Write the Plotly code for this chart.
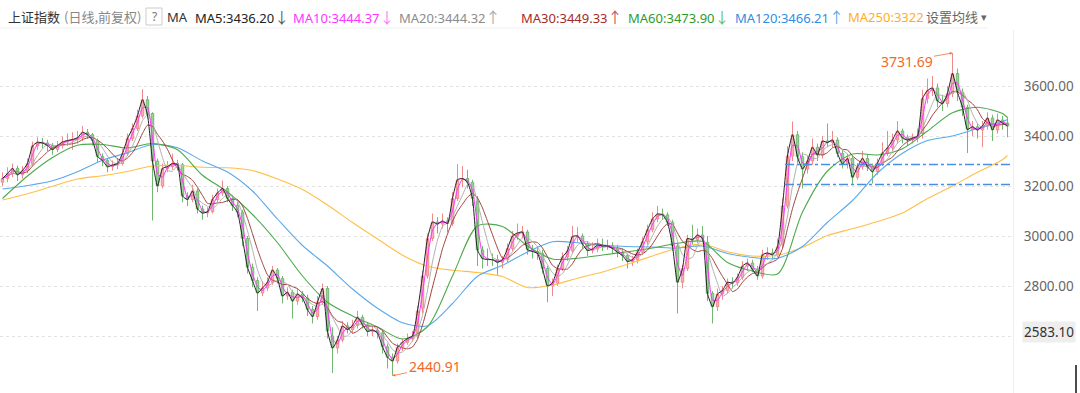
import plotly.graph_objects as go
import pandas as pd

# ---------------- data ----------------
opens = [3215,3230,3250,3270,3245,3262,3290,3360,3375,3372,
 3362,3346,3362,3376,3382,3386,3393,3415,3405,3382,
 3318,3302,3277,3284,3290,3330,3390,3430,3480,3545,
 3490,3300,3200,3270,3278,3290,3285,3160,3146,3180,
 3108,3092,3097,3146,3172,3190,3150,3122,3095,2990,
 2875,2822,2772,2792,2815,2864,2830,2760,2775,2740,
 2768,2752,2706,2678,2735,2790,2600,2552,2584,2640,
 2626,2642,2675,2645,2618,2624,2612,2557,2515,2500,
 2555,2575,2590,2600,2712,2840,2990,3056,3048,3060,
 3050,3150,3225,3230,3215,3140,2944,2910,2906,2905,
 2895,2905,2950,3000,3012,3016,2945,2938,2930,2870,
 2800,2812,2870,2916,2940,2998,3000,2968,2942,2948,
 2964,2960,2960,2950,2935,2922,2898,2905,2935,2977,
 3025,3068,3088,3085,3055,2960,2815,2870,2990,2985,
 3004,2975,2770,2717,2768,2782,2815,2812,2835,2880,
 2892,2866,2840,2925,2932,2925,2965,3120,3320,3405,
 3317,3268,3300,3355,3324,3380,3374,3384,3330,3288,
 3310,3235,3277,3310,3277,3257,3292,3332,3352,3384,
 3420,3392,3384,3392,3410,3550,3582,3592,3540,3530,
 3570,3650,3575,3515,3426,3437,3424,3440,3472,3424,
 3464,3452]
closes = [3230,3250,3270,3245,3262,3290,3360,3375,3372,3362,
 3346,3362,3376,3382,3386,3393,3415,3405,3382,3318,
 3302,3277,3284,3290,3330,3390,3430,3480,3545,3485,
 3300,3200,3270,3278,3290,3285,3160,3146,3180,3108,
 3092,3097,3146,3172,3190,3150,3122,3095,2990,2875,
 2822,2772,2792,2815,2864,2830,2760,2775,2740,2768,
 2752,2706,2678,2735,2790,2620,2552,2584,2640,2626,
 2642,2675,2645,2618,2624,2612,2557,2515,2500,2555,
 2575,2590,2600,2700,2840,2990,3056,3048,3060,3050,
 3150,3225,3230,3215,3150,2944,2910,2906,2905,2895,
 2905,2950,3000,3012,3016,2945,2938,2930,2870,2800,
 2812,2870,2916,2940,2998,3000,2968,2942,2948,2964,
 2960,2960,2950,2935,2922,2898,2905,2935,2977,3025,
 3068,3088,3085,3055,2960,2815,2870,2990,2985,3004,
 2990,2770,2717,2768,2782,2815,2812,2835,2880,2892,
 2866,2840,2925,2932,2925,2957,3120,3320,3405,3317,
 3268,3300,3355,3324,3380,3374,3384,3330,3288,3310,
 3235,3277,3310,3277,3257,3292,3332,3352,3384,3420,
 3392,3384,3392,3400,3550,3582,3592,3540,3530,3570,
 3650,3575,3515,3426,3437,3424,3440,3472,3424,3464,
 3452,3440]
highs = [3255,3275,3290,3282,3280,3310,3378,3395,3392,3385,
 3372,3380,3398,3410,3415,3420,3440,3428,3412,3390,
 3330,3312,3302,3310,3348,3410,3450,3505,3587,3560,
 3495,3310,3290,3300,3330,3305,3292,3175,3205,3190,
 3122,3115,3165,3190,3222,3200,3162,3135,3105,3000,
 2890,2835,2820,2835,2880,2872,2840,2795,2785,2790,
 2780,2765,2720,2760,2810,2800,2635,2600,2660,2655,
 2665,2700,2685,2655,2640,2635,2620,2570,2530,2570,
 2590,2610,2620,2720,2860,3010,3090,3075,3090,3075,
 3175,3288,3280,3265,3225,3160,2960,2950,2930,2925,
 2920,2970,3020,3050,3040,3025,2965,2960,2945,2880,
 2830,2885,2935,2960,3040,3035,3010,2980,2975,2990,
 2990,2985,2975,2965,2950,2930,2920,2950,2995,3045,
 3095,3120,3110,3095,3065,2975,2885,3005,3045,3030,
 3040,3000,2780,2790,2800,2830,2835,2850,2900,2910,
 2905,2880,2945,2955,2950,2990,3150,3360,3458,3420,
 3335,3320,3390,3370,3400,3450,3420,3395,3345,3330,
 3320,3290,3340,3325,3290,3310,3375,3420,3410,3460,
 3430,3405,3410,3430,3585,3630,3640,3610,3565,3600,
 3732,3670,3590,3525,3460,3450,3460,3495,3485,3490,
 3480,3475]
lows = [3200,3215,3235,3220,3230,3250,3282,3345,3350,3340,
 3325,3335,3350,3360,3345,3370,3380,3388,3362,3295,
 3280,3255,3262,3268,3282,3320,3380,3420,3470,3470,
 3062,3175,3190,3255,3265,3262,3135,3120,3135,3090,
 3065,3075,3090,3135,3160,3135,3100,3075,2960,2850,
 2795,2700,2760,2780,2805,2810,2730,2745,2670,2725,
 2735,2680,2650,2665,2725,2590,2452,2530,2575,2610,
 2612,2630,2630,2600,2600,2590,2530,2470,2441,2490,
 2540,2565,2578,2590,2690,2830,2980,3010,3030,3015,
 3040,3140,3195,3190,3120,2880,2870,2880,2880,2845,
 2870,2895,2940,2985,2990,2925,2910,2905,2850,2735,
 2760,2800,2860,2900,2930,2975,2950,2920,2930,2935,
 2940,2945,2930,2915,2900,2870,2880,2890,2925,2965,
 3015,3055,3065,3040,2940,2690,2790,2860,2965,2970,
 2980,2740,2650,2700,2745,2770,2790,2800,2825,2860,
 2855,2825,2830,2905,2905,2915,2950,3110,3300,3290,
 3190,3250,3285,3300,3310,3355,3355,3315,3270,3270,
 3205,3225,3265,3260,3210,3245,3280,3320,3340,3370,
 3370,3360,3370,3375,3390,3530,3560,3515,3500,3515,
 3555,3540,3480,3332,3400,3390,3355,3425,3380,3410,
 3425,3395]

# long moving averages, read every 5th candle (plus the last one)
ma60 = [3150,3240,3314,3363,3366,3352,3370,3345,3243,3176,3086,2973,2840,2735,2680,
        2636,2588,2637,2840,3040,3038,2960,2908,2911,2924,2937,2952,2971,2978,2894,
        2860,2848,3096,3260,3328,3324,3349,3420,3493,3515,3490,3474]
ma120 = [3188,3202,3221,3257,3303,3333,3366,3353,3300,3256,3180,3068,2962,2880,2788,
         2711,2653,2641,2730,2839,2883,2936,2977,2973,2964,2958,2956,2952,2960,2930,
         2914,2911,2958,3055,3142,3252,3331,3382,3400,3430,3458,3466]
ma250 = [3144,3169,3199,3228,3241,3258,3280,3282,3275,3273,3262,3228,3186,3124,3054,
         2988,2923,2879,2863,2854,2838,2794,2804,2831,2856,2887,2920,2952,2968,2937,
         2920,2923,2955,3002,3029,3058,3092,3150,3200,3255,3305,3322]

support_levels = [3286, 3206]
support_start = 156.5
high_label = "3731.69"
low_label = "2440.91"
last_label = "2583.10"
y_ticks = [2600, 2800, 3000, 3200, 3400, 3600]

CJK = "Noto Sans CJK SC"
LAT = "Noto Sans"
# (text, arrow, colour, arrow colour, left px, size, family)
header_items = [
    ("上证指数", "", "#333333", "", 8, 13, CJK),
    ("(日线,前复权)", "", "#888888", "", 64, 13, CJK),
    ("MA", "", "#333333", "", 167, 13, LAT),
    ("MA5:3436.20", "↓", "#222222", "#555555", 195, 13, LAT),
    ("MA10:3444.37", "↓", "#ff33ff", "#ff77ff", 293, 13, LAT),
    ("MA20:3444.32", "↑", "#8c8c8c", "#aaaaaa", 399, 13, LAT),
    ("MA30:3449.33", "↑", "#a52a2a", "#c05a5a", 521, 13, LAT),
    ("MA60:3473.90", "↓", "#2e9a2e", "#66bb66", 628, 13, LAT),
    ("MA120:3466.21", "↑", "#2b8fe6", "#5aa9ec", 735, 13, LAT),
    ("MA250:3322", "", "#ffad1f", "", 848, 13, LAT),
    ("设置均线", "", "#666666", "", 926, 13, CJK),
    ("▾", "", "#666666", "", 981, 11, LAT),
]

# ---------------- figure ----------------
n = len(closes)
idx = list(range(n))
ma_idx = list(range(0, n - 1, 5)) + [n - 1]
close_s = pd.Series(closes, dtype=float)

PW, PH, TOP = 1013, 363, 30
def xp(px):
    return px / PW
def yp(py):
    return (TOP + PH - py) / PH

fig = go.Figure()
fig.add_trace(go.Candlestick(
    x=idx, open=opens, high=highs, low=lows, close=closes,
    increasing=dict(line=dict(color="#f08a8a", width=1), fillcolor="#f6b0b0"),
    decreasing=dict(line=dict(color="#72b872", width=1), fillcolor="#9ad29a"),
    whiskerwidth=0, hoverinfo="skip", showlegend=False))

short_mas = [(1, "#222222"), (2, "#ff33ff"), (4, "#b0b0b0"), (6, "#a0413c")]
long_mas = [(ma250, "#ffbf47"), (ma120, "#5aa9ec"), (ma60, "#4caa4c")]
for vals, col in long_mas:
    fig.add_trace(go.Scatter(x=ma_idx, y=vals, mode="lines",
                             line=dict(color=col, width=1.1, shape="spline", smoothing=0.8),
                             hoverinfo="skip", showlegend=False))
for w, col in reversed(short_mas):
    fig.add_trace(go.Scatter(x=idx, y=close_s.rolling(w, min_periods=1).mean(), mode="lines",
                             line=dict(color=col, width=1, shape="spline", smoothing=0.5),
                             hoverinfo="skip", showlegend=False))

x_end = (PW / 5) - 0.5
for lvl in support_levels:
    fig.add_shape(type="line", xref="x", yref="y", x0=support_start, x1=x_end, y0=lvl, y1=lvl,
                  line=dict(color="#4a90e2", width=1.5, dash="dashdot"))

# separator under header
fig.add_shape(type="line", xref="paper", yref="paper", x0=0, x1=xp(988), y0=yp(28), y1=yp(28),
              line=dict(color="#eeeeee", width=1))
# "?" box
fig.add_shape(type="rect", xref="paper", yref="paper", x0=xp(146), x1=xp(162), y0=yp(25), y1=yp(8),
              line=dict(color="#cccccc", width=1), fillcolor="white")
fig.add_annotation(xref="paper", yref="paper", x=xp(154), y=yp(16.5), text="?", showarrow=False,
                   font=dict(size=12, color="#777777", family=LAT), xanchor="center", yanchor="middle")
# cursor mark bottom right
fig.add_shape(type="line", xref="paper", yref="paper", x0=xp(1076), x1=xp(1076), y0=yp(365), y1=yp(393),
              line=dict(color="#111111", width=1.5))

for text, arrow, col, acol, px, size, fam in header_items:
    label = text
    if arrow:
        label += ("<span style='font-family:Noto Sans CJK SC;font-size:15px;color:%s'>%s</span>"
                  % (acol, arrow))
    fig.add_annotation(xref="paper", yref="paper", x=xp(px - 2), y=yp(16.5), text=label,
                       showarrow=False, xanchor="left", yanchor="middle",
                       font=dict(size=size, color=col, family=fam))

imax = highs.index(max(highs))
imin = lows.index(min(lows))
fig.add_annotation(x=imax, y=highs[imax], xref="x", yref="y", text=high_label,
                   showarrow=True, ax=-46, ay=8, arrowhead=2, arrowsize=0.7, arrowwidth=0.8,
                   arrowcolor="#f07030", font=dict(size=14, color="#f06a28", family=LAT))
fig.add_annotation(x=imin, y=lows[imin], xref="x", yref="y", text=low_label,
                   showarrow=True, ax=42, ay=-9, arrowhead=2, arrowsize=0.7, arrowwidth=0.8,
                   arrowcolor="#f07030", font=dict(size=14, color="#f06a28", family=LAT))
fig.add_annotation(xref="paper", yref="paper", x=xp(1049), y=yp(331.5), text=last_label,
                   showarrow=False, xanchor="center", yanchor="middle",
                   bgcolor="#eeeeee", borderpad=1, font=dict(size=13.5, color="#333333", family=LAT))

fig.update_layout(
    width=1080, height=393,
    margin=dict(l=0, r=1080 - PW, t=TOP, b=0),
    paper_bgcolor="white", plot_bgcolor="white",
    font=dict(family="Noto Sans CJK SC, Noto Sans, sans-serif"),
    showlegend=False,
    xaxis=dict(range=[-0.5, x_end], visible=False, rangeslider=dict(visible=False), fixedrange=True),
    yaxis=dict(range=[2372, 3824], side="right", tickvals=y_ticks, tickformat=".2f",
               showgrid=True, gridcolor="#e3e3e3", griddash="dot", gridwidth=1,
               zeroline=False, showline=True, linecolor="#eeeeee", linewidth=1,
               ticks="", ticklabelstandoff=7, fixedrange=True,
               tickfont=dict(size=13.5, color="#666666", family=LAT)),
)

fig.write_html("out.html", config={"displayModeBar": False},
               post_script="document.body.style.margin='0px';document.body.style.overflow='hidden';")
